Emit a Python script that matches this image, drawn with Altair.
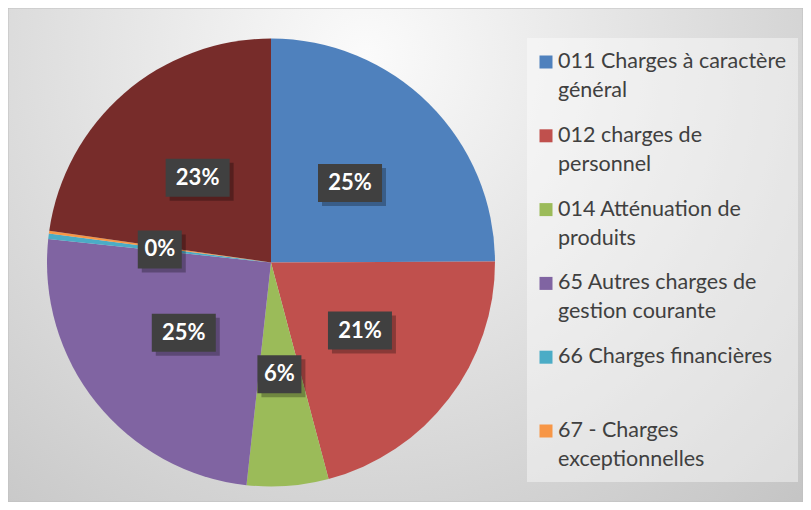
import altair as alt
import pandas as pd

# ---- data ----
categories = [
    "011 Charges à caractère général",
    "012 charges de personnel",
    "014 Atténuation de produits",
    "65 Autres charges de gestion courante",
    "66 Charges financières",
    "67 - Charges exceptionnelles",
    "Autres",
]
values = [25.0, 21.0, 5.9, 25.0, 0.4, 0.2, 22.8]
colors = ["#4F81BD", "#C0504D", "#9BBB59", "#8064A2", "#4BACC6", "#F79646", "#772C2A"]

legend_categories = categories[:6]
legend_labels = [
    "011 Charges à caractère\ngénéral",
    "012 charges de\npersonnel",
    "014 Atténuation de\nproduits",
    "65 Autres charges de\ngestion courante",
    "66 Charges financières",
    "67 - Charges\nexceptionnelles",
]

W, H = 795, 494
CX, CY, R, LR = 263, 254.5, 224, 112

df = pd.DataFrame({"cat": categories, "value": values, "idx": list(range(len(categories)))})
leg = pd.DataFrame({"cat": legend_categories, "label": legend_labels})

color_scale = alt.Scale(domain=categories, range=colors)

bg = alt.Chart(pd.DataFrame({"a": [0]})).mark_rect(
    fill={
        "gradient": "radial",
        "x1": 0.45, "y1": 0.25, "r1": 0,
        "x2": 0.45, "y2": 0.25, "r2": 0.85,
        "stops": [
            {"offset": 0, "color": "#FBFBFB"},
            {"offset": 1, "color": "#C0C0C0"},
        ],
    },
    stroke="#BFBFBF",
    strokeWidth=1,
).encode(x=alt.value(0), x2=alt.value(W), y=alt.value(0), y2=alt.value(H))

legend_box = alt.Chart(pd.DataFrame({"a": [0]})).mark_rect(
    fill="white", opacity=0.42
).encode(x=alt.value(519), x2=alt.value(790), y=alt.value(30), y2=alt.value(474))

pie = alt.Chart(df).mark_arc(outerRadius=R).encode(
    theta=alt.Theta("value:Q", stack=True),
    color=alt.Color("cat:N", scale=color_scale, legend=None),
    order=alt.Order("idx:Q"),
    x=alt.value(CX),
    y=alt.value(CY),
)

lab_base = alt.Chart(df).transform_joinaggregate(
    total="sum(value)"
).transform_window(
    cum="sum(value)", sort=[alt.SortField("idx")]
).transform_filter(
    alt.datum.cat != categories[5]
).transform_calculate(
    mid="(datum.cum - datum.value/2) / datum.total * 2 * PI",
    px=f"{CX} + {LR} * sin(datum.mid)",
    py=f"{CY} - {LR} * cos(datum.mid)",
    txt="format(datum.value / datum.total, '.0%')",
).transform_calculate(
    hw="2 + 10 * length(datum.txt)",
).transform_calculate(
    x1="datum.px - datum.hw", x2="datum.px + datum.hw",
    y1="datum.py - 19", y2="datum.py + 19",
    sx1="datum.px - datum.hw + 4", sx2="datum.px + datum.hw + 4",
    sy1="datum.py - 19 + 4", sy2="datum.py + 19 + 4",
)

xs = alt.Scale(domain=[0, W], range=[0, W])
ys = alt.Scale(domain=[0, H], range=[0, H])

shadow = lab_base.mark_rect(color="black", opacity=0.28).encode(
    x=alt.X("sx1:Q", scale=xs, axis=None), x2="sx2:Q",
    y=alt.Y("sy1:Q", scale=ys, axis=None), y2="sy2:Q",
)
boxes = lab_base.mark_rect(color="#404040").encode(
    x=alt.X("x1:Q", scale=xs, axis=None), x2="x2:Q",
    y=alt.Y("y1:Q", scale=ys, axis=None), y2="y2:Q",
)
texts = lab_base.mark_text(
    font="Lato", fontSize=22, fontWeight="bold", color="white",
    align="center", baseline="middle",
).encode(
    x=alt.X("px:Q", scale=xs, axis=None),
    y=alt.Y("py:Q", scale=ys, axis=None),
    text="txt:N",
)

ly = alt.Scale(domain=legend_categories, range=[54, 423], padding=0)
leg_sym = alt.Chart(leg).mark_square(size=169, opacity=1).encode(
    x=alt.value(538),
    y=alt.Y("cat:N", scale=ly, axis=None),
    color=alt.Color("cat:N", scale=color_scale, legend=None),
)
leg_txt = alt.Chart(leg).mark_text(
    font="Lato", fontSize=21.5, color="#404040", align="left", baseline="middle",
    lineBreak="\n", lineHeight=29,
).encode(
    x=alt.value(550),
    y=alt.Y("cat:N", scale=ly, axis=None),
    text="label:N",
)

chart = alt.layer(
    bg, legend_box, pie, shadow, boxes, texts, leg_sym, leg_txt
).resolve_scale(
    x="independent", y="independent"
).properties(
    width=W, height=H, padding=0,
    autosize=alt.AutoSizeParams(type="none"),
).configure_view(stroke=None)

chart.save("out.html", embed_options={"renderer": "svg", "actions": False})
